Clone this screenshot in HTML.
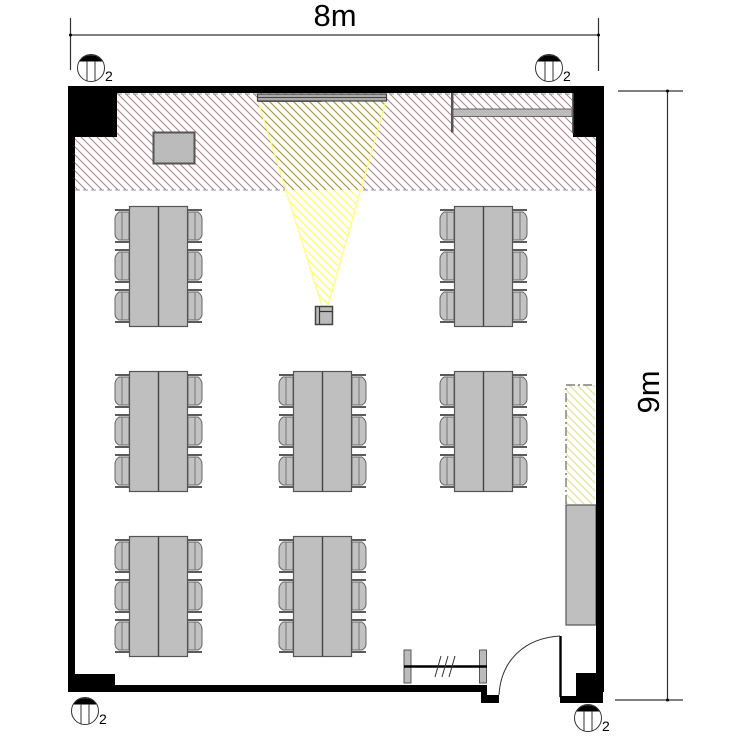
<!DOCTYPE html>
<html><head><meta charset="utf-8"><style>html,body{margin:0;padding:0;background:#fff}svg{display:block}text{font-family:"Liberation Sans",sans-serif;fill:#000}</style></head><body>
<svg width="750" height="750" viewBox="0 0 750 750" xmlns="http://www.w3.org/2000/svg">
<defs>
<pattern id="h" width="8" height="8" patternUnits="userSpaceOnUse"><path d="M-2 -2L10 10M-2 6L2 10M6 -2L10 2" stroke="#ac8088" stroke-width="1"/></pattern>
<pattern id="hy" width="8" height="8" patternUnits="userSpaceOnUse"><path d="M-2 -2L10 10M-2 6L2 10M6 -2L10 2" stroke="#a89050" stroke-width="1.1"/></pattern>
<pattern id="hp" width="8" height="8" patternUnits="userSpaceOnUse"><path d="M-2 -2L10 10M-2 6L2 10M6 -2L10 2" stroke="#ffff70" stroke-width="1.3"/></pattern>
<pattern id="hc" width="8" height="8" patternUnits="userSpaceOnUse"><path d="M-2 -2L10 10M-2 6L2 10M6 -2L10 2" stroke="#e6e6a8" stroke-width="1.5"/></pattern>
<g id="chairL">
<path d="M15 1H1M15 33H1" stroke="#444" stroke-width="1.8" fill="none"/>
<path d="M15 3H5Q1 6 1 10V25Q1 29 5 31H15Z" fill="#c2c2c2" stroke="#666" stroke-width="1"/>
<path d="M8 3V31" stroke="#777" stroke-width="1"/>
</g>
<g id="t">
<use href="#chairL" x="0" y="3"/><use href="#chairL" x="0" y="43"/><use href="#chairL" x="0" y="83"/>
<g transform="translate(89 0) scale(-1 1)"><use href="#chairL" x="0" y="3"/><use href="#chairL" x="0" y="43"/><use href="#chairL" x="0" y="83"/></g>
<rect x="15.5" y="0.5" width="58" height="120" fill="#bfbfbf" stroke="#555" stroke-width="1.2"/>
<path d="M44.5 0.5V120.5" stroke="#444" stroke-width="1.4"/>
</g>
<g id="mark">
<circle cx="0" cy="0" r="13.5" fill="#fff" stroke="#333" stroke-width="1"/>
<path d="M-11.5 -6.5A13.5 13.5 0 0 1 11.5 -6.5Z" fill="#000"/>
<path d="M-4 -7V13M4 -7V13" stroke="#333" stroke-width="1"/>
<text x="14" y="13" font-size="14">2</text>
</g>
</defs>

<!-- dimensions -->
<g stroke="#333" stroke-width="1.2" fill="none">
<path d="M70.5 18V70M598.5 18V71M70 35H598"/>
<path d="M618 91H683M667.5 91V700M615 700H683"/>
</g>
<circle cx="70.5" cy="35" r="1.5"/><circle cx="598.5" cy="35" r="1.5"/><circle cx="667.5" cy="91" r="1.5"/><circle cx="667.5" cy="700" r="1.5"/>
<text x="335" y="26" font-size="31" text-anchor="middle">8m</text>
<text transform="translate(659 392) rotate(-90)" font-size="31" text-anchor="middle">9m</text>

<!-- hatch zones -->
<rect x="75" y="93" width="521" height="97" fill="url(#h)"/>
<path d="M75 190H596M117 94H572" stroke="#999" stroke-width="1" stroke-dasharray="5 3" fill="none"/>
<path d="M258 101H386L328 306H322Z" fill="#fff"/>
<path d="M258 101H386L328 306H322Z" fill="url(#hp)"/>
<path d="M258 101H386L361 190H286Z" fill="url(#hy)"/>
<path d="M258 101L322 306H328L386 101" stroke="#ffff80" stroke-width="1.3" fill="none"/>

<!-- yellow cabinet zone -->
<rect x="566" y="385" width="29" height="119" fill="url(#hc)"/>
<path d="M566 504V385H595" stroke="#666" stroke-width="1.2" stroke-dasharray="9 3 2 3" fill="none"/>
<rect x="566" y="505" width="30" height="120" fill="#bfbfbf" stroke="#555" stroke-width="1.2"/>

<!-- walls -->
<path fill="#000" d="M596 137H604V692H596Z"/>
<path fill="#000" d="M68 86H117V137H75V692H68Z"/>
<path fill="#000" d="M573 86H604V137H573Z"/>
<path fill="#000" d="M68 86H604V93H68Z"/>
<path fill="#000" d="M68 674H115V692H68Z"/>
<path fill="#000" d="M68 685H487V692H68Z"/>
<path fill="#000" d="M481 692H487V695H499V703H481Z"/>
<path fill="#000" d="M560 696H603V703H560Z"/>
<path fill="#000" d="M576 673H603V703H576Z"/>
<path d="M560.5 636V697" stroke="#000" stroke-width="2.4" fill="none"/>
<path d="M499 695C501 660 525 638 560 636" stroke="#333" stroke-width="1" fill="none"/>

<!-- screen & furniture -->
<rect x="257.5" y="94" width="129" height="7" fill="#aaa" stroke="#444" stroke-width="1.2"/>
<path d="M258 97.5H386" stroke="#444" stroke-width="1"/>
<path d="M258 101.5H322" stroke="#555" stroke-width="1"/>
<rect x="153.5" y="132.5" width="41" height="31" fill="#bbb" stroke="#555" stroke-width="2"/>
<rect x="451" y="93" width="2.5" height="39.5" fill="#555"/>
<rect x="453" y="109" width="119" height="7.5" fill="#bbb" stroke="#666" stroke-width="1"/>
<rect x="572" y="93" width="1.5" height="40" fill="#666"/>

<!-- projector -->
<rect x="315.5" y="306.5" width="17" height="18" fill="#bbb" stroke="#444" stroke-width="1.5"/>
<path d="M319.5 307V324M319 311.5H332" stroke="#333" stroke-width="1.2" fill="none"/>

<!-- tables -->
<use href="#t" x="114" y="206"/>
<use href="#t" x="439" y="206"/>
<use href="#t" x="114" y="371"/>
<use href="#t" x="278" y="371"/>
<use href="#t" x="439" y="371"/>
<use href="#t" x="114" y="536"/>
<use href="#t" x="278" y="536"/>

<!-- rack -->
<rect x="404" y="650" width="7" height="33" fill="#bbb" stroke="#555" stroke-width="1"/>
<rect x="479.5" y="650" width="7" height="33" fill="#bbb" stroke="#555" stroke-width="1"/>
<path d="M404 666.5H487" stroke="#000" stroke-width="2.4"/>
<path d="M435 677L441 656M442 677L448 656M449 677L455 656" stroke="#333" stroke-width="1"/>

<!-- column marks -->
<use href="#mark" x="91" y="68"/>
<use href="#mark" x="549" y="68"/>
<use href="#mark" x="85" y="711"/>
<use href="#mark" x="588" y="718"/>
</svg>
</body></html>
